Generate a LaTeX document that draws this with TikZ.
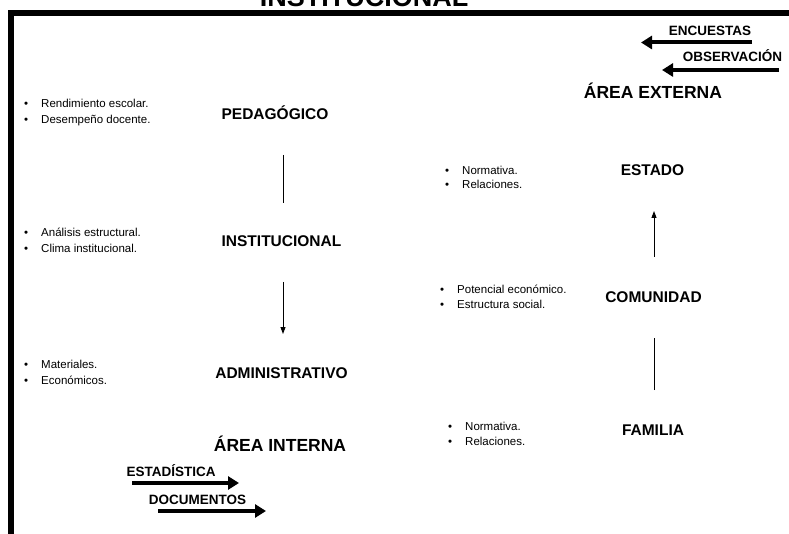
\documentclass[tikz,border=0pt]{standalone}
\usepackage{fontspec}
\setmainfont{Liberation Sans}
\usetikzlibrary{arrows.meta}
\tikzset{
  lbl/.style={anchor=base, inner sep=0pt, font=\fontsize{15.5}{18}\selectfont\bfseries},
  area/.style={anchor=base, inner sep=0pt, font=\fontsize{17.5}{20}\selectfont\bfseries},
  tag/.style={anchor=base, inner sep=0pt, font=\fontsize{13.5}{16}\selectfont\bfseries},
  item/.style={anchor=base west, inner sep=0pt, font=\fontsize{11.5}{14}\selectfont},
  thinline/.style={line width=0.9pt},
  thinarrow/.style={line width=0.9pt, -{Triangle[length=7pt,width=5pt]}},
  bigarrow/.style={line width=4pt, -{Triangle[length=11pt,width=13pt]}},
}
\newcommand{\itm}[1]{\makebox[17pt][l]{\textbullet}#1}
\begin{document}
\begin{tikzpicture}[x=1pt,y=-1pt]
\useasboundingbox (0,0) rectangle (789,534);
\clip (0,0) rectangle (789,534);
% frame
\draw[line width=6pt, miter limit=10] (11,540) -- (11,13) -- (795,13);
% cut-off title
\node[anchor=base, inner sep=0pt, font=\fontsize{27}{30}\selectfont\bfseries] (title) at (364,7) {INSTITUCIONAL};
% left column
\node[lbl] (ped) at (275,120) {PEDAGÓGICO};
\node[lbl] (inst) at (281.5,246.5) {INSTITUCIONAL};
\node[lbl] (adm) at (281.5,378.5) {ADMINISTRATIVO};
\node[area] (int) at (280,451) {ÁREA INTERNA};
\node[item] (b1a) at (24,108) {\itm{Rendimiento escolar.}};
\node[item] (b1b) at (24,124) {\itm{Desempeño docente.}};
\node[item] (b2a) at (24,237) {\itm{Análisis estructural.}};
\node[item] (b2b) at (24,253) {\itm{Clima institucional.}};
\node[item] (b3a) at (24,368) {\itm{Materiales.}};
\node[item] (b3b) at (24,384) {\itm{Económicos.}};
\coordinate (p1) at (283,155);
\coordinate (p2) at (283,203);
\coordinate (p3) at (283,282);
\coordinate (p4) at (283,334);
\draw[thinline] (p1) -- (p2);
\draw[thinarrow] (p3) -- (p4);
\node[tag] (est) at (171,476) {ESTADÍSTICA};
\node[tag] (doc) at (197.5,504) {DOCUMENTOS};
\coordinate (e1) at (132,483);
\coordinate (e2) at (239,483);
\coordinate (d1) at (158,511);
\coordinate (d2) at (266,511);
\draw[bigarrow] (e1) -- (e2);
\draw[bigarrow] (d1) -- (d2);
% right column
\node[tag] (enc) at (710,36) {ENCUESTAS};
\node[tag] (obs) at (732.5,62) {OBSERVACIÓN};
\coordinate (n1) at (752,42.5);
\coordinate (n2) at (641,42.5);
\coordinate (o1) at (779,70);
\coordinate (o2) at (662,70);
\draw[bigarrow] (n1) -- (n2);
\draw[bigarrow] (o1) -- (o2);
\node[area] (ext) at (653,99) {ÁREA EXTERNA};
\node[lbl] (estado) at (652.5,175.5) {ESTADO};
\node[lbl] (comun) at (653.5,302) {COMUNIDAD};
\node[lbl] (fam) at (653,435.5) {FAMILIA};
\node[item] (b4a) at (445,174.5) {\itm{Normativa.}};
\node[item] (b4b) at (445,188.5) {\itm{Relaciones.}};
\node[item] (b5a) at (440,294) {\itm{Potencial económico.}};
\node[item] (b5b) at (440,308.5) {\itm{Estructura social.}};
\node[item] (b6a) at (448,430) {\itm{Normativa.}};
\node[item] (b6b) at (448,445) {\itm{Relaciones.}};
\coordinate (c1) at (654,257);
\coordinate (c2) at (654,211);
\coordinate (f1) at (654,390);
\coordinate (f2) at (654,338);
\draw[thinarrow] (c1) -- (c2);
\draw[thinline] (f1) -- (f2);
\end{tikzpicture}
\end{document}
